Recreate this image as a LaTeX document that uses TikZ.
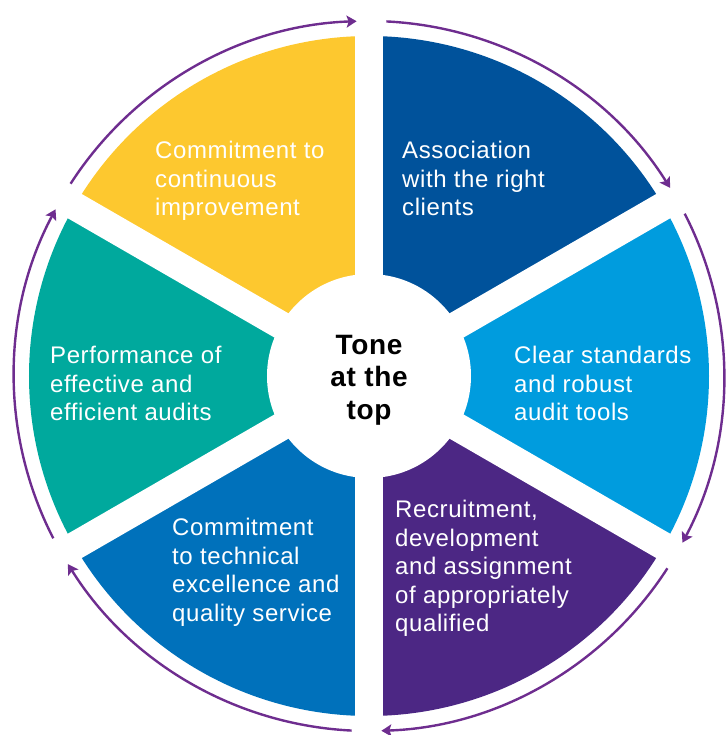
\documentclass[tikz,border=0pt]{standalone}
\usepackage{fontspec}
\setmainfont{Liberation Sans}[LetterSpace=2.5]
\usetikzlibrary{arrows.meta}
\definecolor{qcyellow}{HTML}{FDC82F}
\definecolor{qcnavy}{HTML}{00529B}
\definecolor{qccyan}{HTML}{009CDE}
\definecolor{qcviolet}{HTML}{4C2784}
\definecolor{qcblue}{HTML}{0071BB}
\definecolor{qcteal}{HTML}{00A99D}
\definecolor{qcarrow}{HTML}{6E2D8F}
\tikzstyle{gap} = [white, line width=28pt]
\tikzstyle{label} = [text=white, align=left, anchor=north west, inner sep=0pt, font=\fontsize{24pt}{28.5pt}\selectfont]
\tikzstyle{hub} = [circle, fill=white, minimum size=204pt, inner sep=0pt, align=center, font=\bfseries\fontsize{28pt}{32.5pt}\selectfont]
\tikzstyle{turn} = [draw=qcarrow, line width=2.4pt, -{Stealth[length=10pt,width=12pt,inset=2pt]}]

\begin{document}
\begin{tikzpicture}
  \useasboundingbox (-369pt,-359pt) rectangle (356pt,376pt);

  \fill[qcyellow] (0,0) -- (90:340pt) arc[start angle=90, end angle=150, radius=340pt] -- cycle;
  \fill[qcnavy] (0,0) -- (30:340pt) arc[start angle=30, end angle=90, radius=340pt] -- cycle;
  \fill[qccyan] (0,0) -- (-30:340pt) arc[start angle=-30, end angle=30, radius=340pt] -- cycle;
  \fill[qcviolet] (0,0) -- (-90:340pt) arc[start angle=-90, end angle=-30, radius=340pt] -- cycle;
  \fill[qcblue] (0,0) -- (-150:340pt) arc[start angle=-150, end angle=-90, radius=340pt] -- cycle;
  \fill[qcteal] (0,0) -- (150:340pt) arc[start angle=150, end angle=210, radius=340pt] -- cycle;

  \draw[gap] (90:350pt) -- (-90:350pt);
  \draw[gap] (30:350pt) -- (210:350pt);
  \draw[gap] (150:350pt) -- (-30:350pt);

  \fill[white] (0,0) circle (102pt);
  \node (hub) [hub, fill=none] at (0,-4pt) {Tone\\at the\\top};

  \node (improve) [label] at (-214pt,235pt) {Commitment to\\continuous\\improvement};
  \node (clients) [label] at (33pt,235pt) {Association\\with the right\\clients};
  \node (tools) [label] at (145pt,30pt) {Clear standards\\and robust\\audit tools};
  \node (people) [label] at (26pt,-124pt) {Recruitment,\\development\\and assignment\\of appropriately\\qualified};
  \node (service) [label] at (-197pt,-142pt) {Commitment\\to technical\\excellence and\\quality service};
  \node (audits) [label] at (-319pt,30pt) {Performance of\\effective and\\efficient audits};

  \draw[turn] (147.2:355pt) arc[start angle=147.2, end angle=92, radius=355pt];
  \draw[turn] (87.2:355pt) arc[start angle=87.2, end angle=32, radius=355pt];
  \draw[turn] (27.2:355pt) arc[start angle=27.2, end angle=-28, radius=355pt];
  \draw[turn] (-32.8:355pt) arc[start angle=-32.8, end angle=-88, radius=355pt];
  \draw[turn] (-92.8:355pt) arc[start angle=-92.8, end angle=-148, radius=355pt];
  \draw[turn] (207.2:355pt) arc[start angle=207.2, end angle=152, radius=355pt];
\end{tikzpicture}
\end{document}
